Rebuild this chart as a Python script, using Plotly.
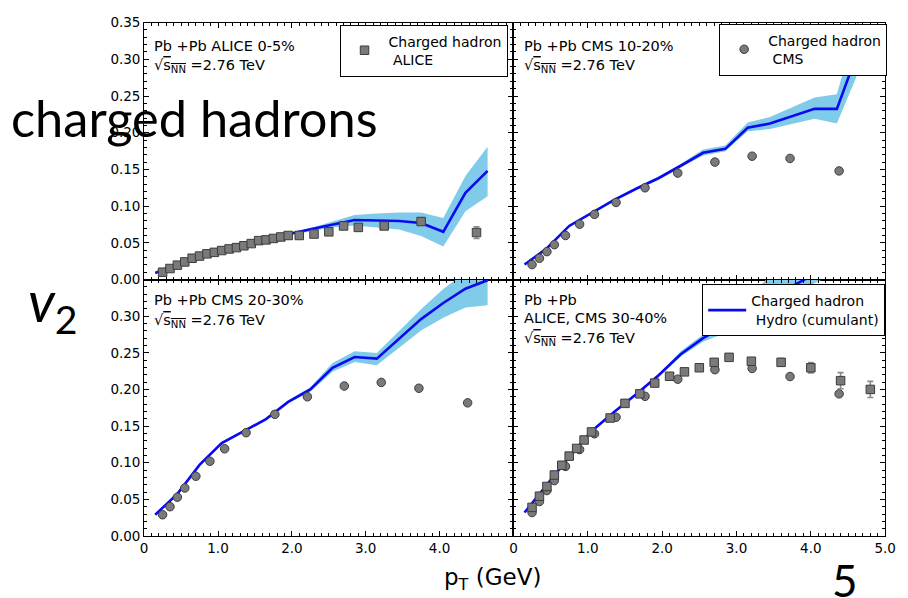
import plotly.graph_objects as go

W, H = 908, 598

# ---------------- data ----------------
hydro_pt = [0.15, 0.45, 0.75, 1.05, 1.35, 1.65, 1.95, 2.25, 2.55, 2.85, 3.15, 3.45, 3.75, 4.05, 4.35, 4.65]

# ALICE 0-5%
hyd05_v2 = [0.009, 0.0217, 0.032, 0.041, 0.0496, 0.056, 0.0616, 0.0684, 0.0745, 0.081, 0.0805, 0.0797, 0.077, 0.065, 0.118, 0.148]
hyd05_lo = [0.008, 0.0205, 0.031, 0.040, 0.0485, 0.055, 0.060, 0.066, 0.071, 0.0736, 0.071, 0.068, 0.0594, 0.045, 0.093, 0.1135]
hyd05_hi = [0.010, 0.0228, 0.033, 0.042, 0.0505, 0.057, 0.063, 0.070, 0.079, 0.088, 0.090, 0.0914, 0.0914, 0.0838, 0.141, 0.181]
alice05_pt = [0.25, 0.35, 0.45, 0.55, 0.65, 0.75, 0.85, 0.95, 1.05, 1.15, 1.25, 1.35, 1.45, 1.55, 1.65,
              1.75, 1.85, 1.95, 2.1, 2.3, 2.5, 2.7, 2.9, 3.25, 3.75, 4.5]
alice05_v2 = [0.010, 0.015, 0.0196, 0.024, 0.029, 0.032, 0.035, 0.037, 0.0395, 0.0417, 0.0435, 0.046, 0.049,
              0.053, 0.054, 0.056, 0.058, 0.060, 0.060, 0.062, 0.065, 0.073, 0.071, 0.073, 0.079, 0.064]
alice05_err = [0.001] * 18 + [0.0015, 0.002, 0.002, 0.0025, 0.003, 0.003, 0.005, 0.008]

# CMS pT bins
cms_pt = [0.25, 0.35, 0.45, 0.55, 0.70, 0.89, 1.09, 1.38, 1.77, 2.21, 2.71, 3.21, 3.72, 4.38]
cms_err = [0.001] * 10 + [0.0015, 0.0015, 0.0015, 0.002]

# CMS 10-20%
hyd1020_v2 = [0.0204, 0.0426, 0.073, 0.0905, 0.1083, 0.1237, 0.138, 0.155, 0.1726, 0.178, 0.2067, 0.2125, 0.2227, 0.2325, 0.2325, 0.315]
hyd1020_lo = [0.0194, 0.0414, 0.0715, 0.0888, 0.1065, 0.1218, 0.136, 0.1525, 0.169, 0.1747, 0.202, 0.205, 0.212, 0.219, 0.2125, 0.285]
hyd1020_hi = [0.0214, 0.0438, 0.0745, 0.0922, 0.1101, 0.1256, 0.140, 0.1575, 0.177, 0.1827, 0.2138, 0.2213, 0.235, 0.248, 0.2525, 0.36]
cms1020_v2 = [0.0204, 0.029, 0.038, 0.0475, 0.060, 0.0754, 0.0888, 0.105, 0.125, 0.145, 0.160, 0.168, 0.165, 0.148]

# CMS 20-30%
hyd2030_v2 = [0.029, 0.0575, 0.097, 0.1267, 0.143, 0.1595, 0.183, 0.200, 0.2296, 0.2442, 0.242, 0.2695, 0.296, 0.318, 0.3374, 0.349]
hyd2030_lo = [0.028, 0.056, 0.0955, 0.125, 0.1415, 0.158, 0.181, 0.197, 0.224, 0.2375, 0.233, 0.257, 0.2806, 0.298, 0.3117, 0.3148]
hyd2030_hi = [0.030, 0.059, 0.0985, 0.1284, 0.1445, 0.161, 0.185, 0.203, 0.236, 0.252, 0.2496, 0.280, 0.3095, 0.337, 0.36, 0.38]
cms2030_v2 = [0.029, 0.040, 0.053, 0.0655, 0.0815, 0.102, 0.119, 0.141, 0.166, 0.190, 0.2047, 0.2096, 0.2016, 0.1817]

# ALICE, CMS 30-40%
hyd3040_v2 = [0.032, 0.070, 0.108, 0.143, 0.169, 0.1935, 0.219, 0.248, 0.270, 0.287, 0.306, 0.324, 0.341, 0.358, 0.375, 0.39]
hyd3040_lo = [0.031, 0.0685, 0.1065, 0.1415, 0.1675, 0.192, 0.217, 0.245, 0.265, 0.277, 0.292, 0.310, 0.327, 0.345, 0.360, 0.370]
hyd3040_hi = [0.033, 0.0715, 0.1095, 0.1445, 0.1705, 0.195, 0.221, 0.252, 0.275, 0.292, 0.325, 0.355, 0.375, 0.390, 0.410, 0.430]
cms3040_v2 = [0.032, 0.047, 0.062, 0.0756, 0.095, 0.118, 0.1395, 0.162, 0.1906, 0.214, 0.227, 0.2287, 0.2176, 0.194]
alice3040_pt = [0.25, 0.35, 0.45, 0.55, 0.65, 0.75, 0.85, 0.95, 1.05, 1.30, 1.50, 1.70, 1.90, 2.10, 2.30,
                2.50, 2.70, 2.90, 3.20, 3.60, 4.00, 4.40, 4.80]
alice3040_v2 = [0.039, 0.0543, 0.0676, 0.0832, 0.0965, 0.109, 0.1195, 0.131, 0.142, 0.161, 0.181, 0.194,
                0.2087, 0.218, 0.224, 0.2296, 0.237, 0.2438, 0.2385, 0.237, 0.2296, 0.212, 0.200]
alice3040_err = [0.001] * 14 + [0.002, 0.002, 0.0025, 0.003, 0.004, 0.005, 0.007, 0.011, 0.011]

# tick labels
x_tickvals_left = [0, 1, 2, 3, 4]
x_ticktext_left = ["0", "1.0", "2.0", "3.0", "4.0"]
x_tickvals_right = [0, 1, 2, 3, 4, 5]
x_ticktext_right = ["0", "1.0", "2.0", "3.0", "4.0", "5.0"]
y_tickvals_top = [0, 0.05, 0.10, 0.15, 0.20, 0.25, 0.30, 0.35]
y_tickvals_bot = [0, 0.05, 0.10, 0.15, 0.20, 0.25, 0.30]

# ---------------- style ----------------
BAND = "#80CBEA"
LINE = "#0A0AF0"
MK = "#7a7a7a"
MKE = "#3c3c3c"
ERR = "#8a8a8a"
TFONT = "DejaVu Sans"

fig = go.Figure()

def band(xa, ya, lo, hi):
    fig.add_trace(go.Scatter(x=hydro_pt, y=lo, mode="lines", line=dict(width=0, color=BAND),
                             xaxis=xa, yaxis=ya, showlegend=False, hoverinfo="skip"))
    fig.add_trace(go.Scatter(x=hydro_pt, y=hi, mode="lines", line=dict(width=0, color=BAND),
                             fill="tonexty", fillcolor=BAND,
                             xaxis=xa, yaxis=ya, showlegend=False, hoverinfo="skip"))

def hydro(xa, ya, v, show=False, legend="legend3"):
    fig.add_trace(go.Scatter(x=hydro_pt, y=v, mode="lines", line=dict(width=2.6, color=LINE),
                             xaxis=xa, yaxis=ya, showlegend=show, legend=legend,
                             name="Charged hadron<br>\u00a0Hydro (cumulant)"))

def data(xa, ya, x, y, err, symbol, show=False, legend="legend", name=""):
    fig.add_trace(go.Scatter(x=x, y=y, mode="markers",
                             marker=dict(symbol=symbol, size=8.5, color=MK, line=dict(width=1, color=MKE)),
                             error_y=dict(type="data", array=err, color=ERR, thickness=1.6, width=3),
                             xaxis=xa, yaxis=ya, showlegend=show, legend=legend, name=name))

# top-left
band("x", "y", hyd05_lo, hyd05_hi)
hydro("x", "y", hyd05_v2)
data("x", "y", alice05_pt, alice05_v2, alice05_err, "square", True, "legend", "Charged hadron<br>\u00a0ALICE")
# top-right
band("x2", "y2", hyd1020_lo, hyd1020_hi)
hydro("x2", "y2", hyd1020_v2)
data("x2", "y2", cms_pt, cms1020_v2, cms_err, "circle", True, "legend2", "Charged hadron<br>\u00a0CMS")
# bottom-left
band("x3", "y3", hyd2030_lo, hyd2030_hi)
hydro("x3", "y3", hyd2030_v2)
data("x3", "y3", cms_pt, cms2030_v2, cms_err, "circle")
# bottom-right
band("x4", "y4", hyd3040_lo, hyd3040_hi)
hydro("x4", "y4", hyd3040_v2, True, "legend3")
data("x4", "y4", cms_pt, cms3040_v2, cms_err, "circle")
data("x4", "y4", alice3040_pt, alice3040_v2, alice3040_err, "square")

# ---------------- layout ----------------
def px(v):
    return v / W

def py(v):
    return 1 - v / H

XL = [px(142.5), px(518)]
XR = [px(518), px(896)]
YT = [py(279), py(15)]
YB = [py(542.5), py(279)]

def xax(dom, anchor, vals, text, show):
    return dict(domain=dom, anchor=anchor, range=[0, 5], showgrid=False, zeroline=False,
                showline=True, linecolor="black", linewidth=1, mirror="allticks",
                ticks="inside", ticklen=5, tickcolor="black", tickwidth=1,
                tickmode="array", tickvals=vals, ticktext=text, showticklabels=show,
                tickfont=dict(family=TFONT, size=13.5, color="black"),
                minor=dict(tickmode="linear", tick0=0, dtick=0.1, ticks="inside", ticklen=3,
                           tickcolor="black", tickwidth=1, showgrid=False))

def yax(dom, anchor, vals, show):
    return dict(domain=dom, anchor=anchor, range=[0, 0.35], showgrid=False, zeroline=False,
                showline=True, linecolor="black", linewidth=1, mirror="allticks",
                ticks="inside", ticklen=5, tickcolor="black", tickwidth=1,
                tickmode="array", tickvals=vals, ticktext=["%.2f" % v for v in vals],
                showticklabels=show,
                tickfont=dict(family=TFONT, size=13.5, color="black"),
                minor=dict(tickmode="linear", tick0=0, dtick=0.01, ticks="inside", ticklen=3,
                           tickcolor="black", tickwidth=1, showgrid=False))

leg_common = dict(bgcolor="white", bordercolor="black", borderwidth=1, itemwidth=38,
                  font=dict(family=TFONT, size=14, color="black"),
                  xanchor="right", yanchor="top", xref="paper", yref="paper", itemclick=False)

ann = []
def txt(x, y, s, size=14.5, family=TFONT, xanchor="left", yanchor="middle"):
    ann.append(dict(x=px(x), y=py(y), xref="paper", yref="paper", text=s, showarrow=False,
                    xanchor=xanchor, yanchor=yanchor, font=dict(family=family, size=size, color="black")))

SQRT = "\u221a<span style='text-decoration:overline'>s<sub>NN</sub></span> =2.76 TeV"
txt(150, 39, "Pb +Pb ALICE 0-5%")
txt(150, 60, SQRT)
txt(527, 39, "Pb +Pb CMS 10-20%")
txt(527, 60, SQRT)
txt(150, 300, "Pb +Pb CMS 20-30%")
txt(150, 322, SQRT)
txt(527, 300, "Pb +Pb")
txt(527, 319, "ALICE, CMS 30-40%")
txt(527, 340, SQRT)

txt(5, 113, "charged hadrons", size=50.5, family="Lato")
txt(22, 305, "<i>v</i><sub>2</sub>", size=56, family="Lato")
txt(855, 588, "5", size=44, family="Lato", xanchor="center")
txt(497, 587, "p<sub>T</sub> (GeV)", size=23, family=TFONT, xanchor="center")

fig.update_layout(
    width=W, height=H, margin=dict(l=0, r=0, t=0, b=0),
    paper_bgcolor="white", plot_bgcolor="white",
    xaxis=xax(XL, "y", x_tickvals_left, x_ticktext_left, False),
    yaxis=yax(YT, "x", y_tickvals_top, True),
    xaxis2=xax(XR, "y2", x_tickvals_right, x_ticktext_right, False),
    yaxis2=yax(YT, "x2", y_tickvals_top, False),
    xaxis3=xax(XL, "y3", x_tickvals_left, x_ticktext_left, True),
    yaxis3=yax(YB, "x3", y_tickvals_bot, True),
    xaxis4=xax(XR, "y4", x_tickvals_right, x_ticktext_right, True),
    yaxis4=yax(YB, "x4", y_tickvals_bot, False),
    legend=dict(x=px(512), y=py(17), **leg_common),
    legend2=dict(x=px(898), y=py(16), **leg_common),
    legend3=dict(x=px(896), y=py(284), **leg_common),
    shapes=[dict(type="rect", xref="paper", yref="paper", x0=0, x1=px(109), y0=py(327), y1=py(268),
                 fillcolor="white", line=dict(width=0), layer="above")],
    annotations=ann,
)

fig.write_html("out.html")
